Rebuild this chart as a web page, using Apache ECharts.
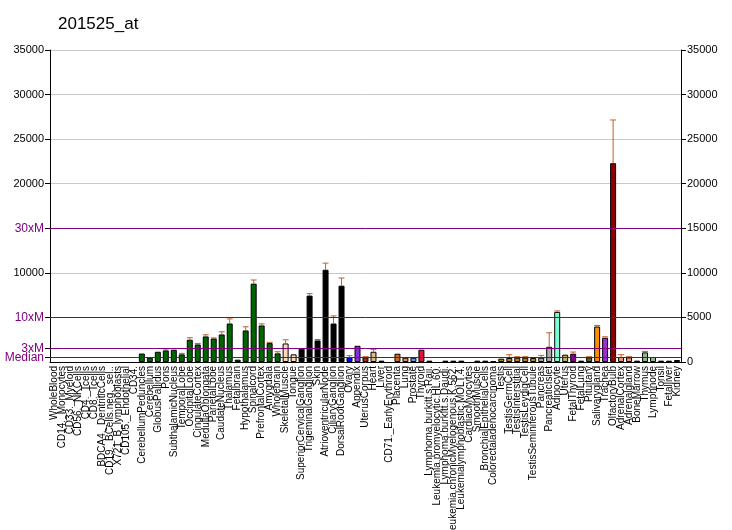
<!DOCTYPE html>
<html>
<head>
<meta charset="utf-8">
<script src="https://cdn.jsdelivr.net/npm/echarts@6/dist/echarts.min.js"></script>
<style>
  html, body { margin: 0; padding: 0; background: #fff; }
  #chart { width: 732px; height: 530px; }
</style>
</head>
<body>
<div id="chart"></div>
<script>
// tissues (x axis)
const tissues = [
    'WholeBlood', 'CD14._Monocytes', 'CD33._Myeloid', 'CD56._NKCells', 'CD4._Tcells', 'CD8._Tcells',
    'BDCA4._DentriticCells', 'CD19._BCells.neg._sel..', 'X721_B_lymphoblasts', 'CD105._Endothelial', 'CD34.',
    'CerebellumPeduncles', 'Cerebellum', 'GlobusPallidus', 'Pons', 'SubthalamicNucleus', 'TemporalLobe',
    'OccipitalLobe', 'CingulateCortex', 'MedullaOblongata', 'ParietalLobe', 'CaudateNucleus', 'Thalamus',
    'Fetalbrain', 'Hypothalamus', 'Spinalcord', 'PrefrontalCortex', 'Amygdala', 'Wholebrain',
    'SkeletalMuscle', 'Tongue', 'SuperiorCervicalGanglion', 'TrigeminalGanglion', 'Skin',
    'AtrioventricularNode', 'CiliaryGanglion', 'DorsalRootGanglion', 'Ovary', 'Appendix', 'UterusCorpus',
    'Heart', 'Liver', 'CD71._EarlyErythroid', 'Placenta', 'Lung', 'Prostate', 'Thyroid',
    'Lymphoma.burkitt.s.Raji.', 'Leukemia.promyelocytic.HL.60.', 'Lymphoma.burkitt.s.Daudi.',
    'Leukemia.chronicMyelogenous.K.562.', 'Leukemialymphoblastic.MOLT.4.', 'CardiacMyocytes',
    'SmoothMuscle', 'BronchialEpithelialCells', 'Colorectaladenocarcinoma', 'Testis', 'TestisGermCell',
    'TestisInterstitial', 'TestisLeydigCell', 'TestisSeminiferousTubule', 'Pancreas', 'PancreaticIslet',
    'Adipocyte', 'Uterus', 'FetalThyroid', 'FetalLung', 'Pituitary', 'Salivarygland', 'Trachea',
    'OlfactoryBulb', 'AdrenalCortex', 'Adrenalgland', 'BoneMarrow', 'Thymus', 'Lymphnode', 'Tonsil',
    'Fetalliver', 'Kidney'
];

// expression values
const values = [
    0, 0, 0, 0, 0, 0, 0, 0, 0, 0, 0,
    950, 480, 1150, 1300, 1380, 860, 2500, 1970, 2870, 2640, 3090, 4320, 260, 3540, 8790, 4100, 2120, 970,
    2080, 860,
    1490, 7450, 2420, 10350, 4320, 8560,
    560, 1820, 520, 1150, 150, 0, 930, 480, 480, 1380,
    150, 0, 150, 150, 150, 0, 150, 150, 80,
    370, 450, 480, 480, 450, 480, 1710, 5620, 820, 930, 150, 520, 3980, 2720, 22300,
    560, 520, 150, 1080, 560, 150, 150, 220
];

// top of the error bar (null = none drawn)
const errTop = [
    null, null, null, null, null, null, null, null, null, null, null,
    null, null, null, 1450, null, 970, 2720, 2085, 3050, 2700, 3390, 4840, null, 3950, 9200, 4280, 2200, 1150,
    2490, null,
    null, 7670, 2530, 11090, 5170, 9420,
    710, null, 600, 1410, null, null, null, null, null, null,
    null, null, null, null, null, null, null, null, null,
    null, 820, 600, 600, null, 745, 3280, 5730, null, 1120, null, 600, 4100, 2830, 27150,
    820, 600, null, 1190, null, null, null, null
];

// fold-of-median reference lines
const refValues = [500, 1500, 5000, 15000];
const refLabels = ['Median', '3xM', '10xM', '30xM'];

const barColors = [
    '#F0F8FF', '#FAEBD7', '#00FFFF', '#7FFFD4', '#F0FFFF', '#F5F5DC', '#FFE4C4', '#000000', '#FFEBCD', '#0000FF', '#8A2BE2',
    '#006400', '#006400', '#006400', '#006400', '#006400', '#006400', '#006400', '#006400', '#006400', '#006400',
    '#006400', '#006400', '#006400', '#006400', '#006400', '#006400', '#006400', '#006400',
    '#FFDAB9', '#FFDAB9',
    '#000000', '#000000', '#000000', '#000000', '#000000', '#000000',
    '#0000FF', '#8A2BE2', '#A52A2A', '#DEB887', '#000000', '#000000', '#D2691E', '#FF7F50', '#6495ED', '#DC143C',
    '#000000', '#000000', '#000000', '#000000', '#000000', '#000000', '#000000', '#000000', '#D2691E',
    '#B8860B', '#B8860B', '#B8860B', '#B8860B', '#B8860B', '#A9A9A9', '#A9A9A9', '#7FFFD4', '#BDB76B',
    '#8B008B', '#000000', '#556B2F', '#FF8C00', '#9932CC', '#8B0000', '#E9967A', '#E9967A', '#000000',
    '#8FBC8F', '#8FBC8F', '#000000', '#000000', '#2F4F4F'
];

const purple = '#800080';
const errColor = '#C0602A';

const chart = echarts.init(document.getElementById('chart'));

// left-axis ticks; the two lowest fold lines get their labels from the mark lines
const leftTicks = [500, 1500, 5000, 10000, 15000, 20000, 25000, 30000, 35000];
const leftLabels = [5000, 10000, 15000, 20000, 25000, 30000, 35000];

const option = {
    animation: false,
    textStyle: { fontFamily: 'Liberation Sans, Arial, sans-serif' },
    title: {
        text: '201525_at',
        left: 53,
        top: 11,
        textStyle: { fontSize: 17, fontWeight: 'normal', color: '#000' }
    },
    grid: { left: 50, right: 51, top: 50, bottom: 168, outerBoundsMode: 'none', containLabel: false },
    xAxis: {
        type: 'category',
        data: tissues,
        axisLine: { lineStyle: { color: '#000' } },
        axisTick: { alignWithLabel: true, interval: 0, length: 5, lineStyle: { color: '#000' } },
        axisLabel: { interval: 0, rotate: 90, fontSize: 10, color: '#000', margin: 4, hideOverlap: false }
    },
    yAxis: [
        {
            type: 'value',
            position: 'left',
            min: 0,
            max: 35000,
            interval: 5000,
            axisLine: { show: true, lineStyle: { color: '#000' } },
            axisTick: { show: true, customValues: leftTicks, length: 5, lineStyle: { color: '#000' } },
            splitLine: { show: true, lineStyle: { color: '#C8C8C8', width: 1 } },
            axisLabel: {
                customValues: leftLabels,
                hideOverlap: false,
                showMaxLabel: true,
                fontSize: 11,
                color: '#000',
                margin: 6,
                formatter: function (v) {
                    const k = refValues.indexOf(v);
                    if (k >= 0) return '{p|' + refLabels[k] + '}';
                    return String(v);
                },
                rich: { p: { color: purple, fontSize: 12 } }
            }
        },
        {
            type: 'value',
            position: 'right',
            min: 0,
            max: 35000,
            interval: 5000,
            axisLine: { show: true, lineStyle: { color: '#000' } },
            axisTick: { show: true, length: 5, lineStyle: { color: '#000' } },
            splitLine: { show: false },
            axisLabel: { fontSize: 11, color: '#000', margin: 6, formatter: v => String(v) }
        }
    ],
    series: [
        {
            type: 'bar',
            barWidth: '75%',
            data: values.map((v, i) => ({
                value: v,
                itemStyle: {
                    color: barColors[i],
                    borderColor: '#000',
                    borderWidth: v > 0 ? 1 : 0
                }
            })),
            markLine: {
                silent: true,
                symbol: 'none',
                label: { show: false },
                lineStyle: { color: purple, type: 'solid', width: 1, opacity: 1 },
                emphasis: { disabled: true },
                data: refValues.map((v, k) => ({
                    yAxis: v,
                    label: {
                        show: v < 5000,
                        position: 'start',
                        formatter: refLabels[k],
                        color: purple,
                        fontSize: 12,
                        distance: 6
                    }
                }))
            },
            z: 2
        },
        {
            type: 'custom',
            z: 3,
            data: errTop
                .map((t, i) => (t == null ? null : [i, t, values[i]]))
                .filter(d => d !== null),
            encode: { x: 0, y: 1 },
            renderItem: function (params, api) {
                const top = api.coord([api.value(0), api.value(1)]);
                const base = api.coord([api.value(0), api.value(2)]);
                const half = 3;
                return {
                    type: 'group',
                    children: [
                        {
                            type: 'line',
                            shape: { x1: top[0], y1: base[1], x2: top[0], y2: top[1] },
                            style: { stroke: errColor, lineWidth: 1 }
                        },
                        {
                            type: 'line',
                            shape: { x1: top[0] - half, y1: top[1], x2: top[0] + half, y2: top[1] },
                            style: { stroke: errColor, lineWidth: 1 }
                        }
                    ]
                };
            }
        }
    ]
};

chart.setOption(option);
</script>
</body>
</html>
